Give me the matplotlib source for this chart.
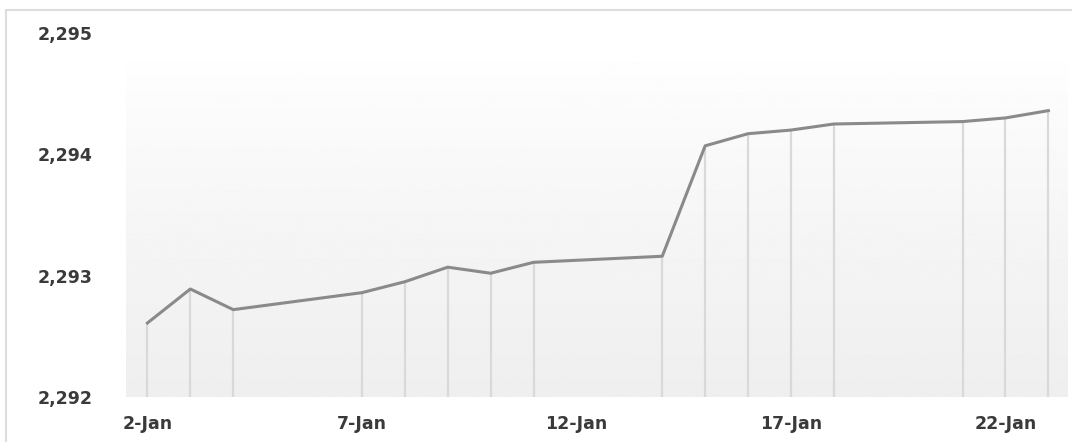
import datetime as dt
import numpy as np
import matplotlib
matplotlib.use("Agg")
from matplotlib import pyplot as plt
import matplotlib.dates as mdates
from matplotlib.lines import Line2D

# trading days of January
days = [2, 3, 4, 7, 8, 9, 10, 11, 14, 15, 16, 17, 18, 21, 22, 23]
values = [2292.61, 2292.89, 2292.72, 2292.86, 2292.95, 2293.07, 2293.02, 2293.11,
          2293.16, 2294.07, 2294.17, 2294.20, 2294.25, 2294.27, 2294.30, 2294.36]
tick_days = [2, 7, 12, 17, 22]
yticks = [2292, 2293, 2294, 2295]
ytick_labels = ["2,292", "2,293", "2,294", "2,295"]

dates = [dt.datetime(2013, 1, d) for d in days]

fig = plt.figure(figsize=(10.72, 4.42), dpi=100)
W, H = 1072, 442
ax = fig.add_axes([126 / W, 45 / H, (1068 - 126) / W, (409 - 45) / H])

x0 = mdates.date2num(dt.datetime(2013, 1, 1, 12))
x1 = mdates.date2num(dt.datetime(2013, 1, 23, 11))
ax.set_xlim(x0, x1)
ax.set_ylim(2292, 2295)

# background gradient, white at the top to light grey at the bottom
t = np.linspace(0, 1, 256)
grad = (1.0 - 0.065 * np.clip((t - 0.05) / 0.95, 0, 1) ** 0.8).reshape(-1, 1)
ax.imshow(grad, cmap="gray", vmin=0, vmax=1, aspect="auto",
          extent=[x0, x1, 2292, 2295], origin="upper", zorder=0)

# drop lines
ax.vlines(dates, 2292, values, color="#d9d9d9", lw=1.6, zorder=1)
ax.plot(dates, values, color="#8a8a8a", lw=2.2, zorder=2, solid_joinstyle="round")

ax.set_xticks([dt.datetime(2013, 1, d) for d in tick_days])
ax.xaxis.set_major_formatter(mdates.DateFormatter("%-d-%b"))
ax.set_yticks(yticks)
ax.set_yticklabels(ytick_labels)

for s in ax.spines.values():
    s.set_visible(False)
ax.tick_params(axis="both", length=0, labelsize=12.5, labelcolor="#3a3a3a")
ax.tick_params(axis="y", pad=24)
ax.tick_params(axis="x", pad=13)
for lab in ax.get_xticklabels() + ax.get_yticklabels():
    lab.set_fontweight("bold")

# outer frame (top and left)
fig.add_artist(Line2D([6 / W, 1], [1 - 10 / H, 1 - 10 / H], color="#dddddd", lw=1.5))
fig.add_artist(Line2D([6 / W, 6 / W], [0, 1 - 10 / H], color="#dddddd", lw=1.5))

fig.savefig("out.png", dpi=100)
